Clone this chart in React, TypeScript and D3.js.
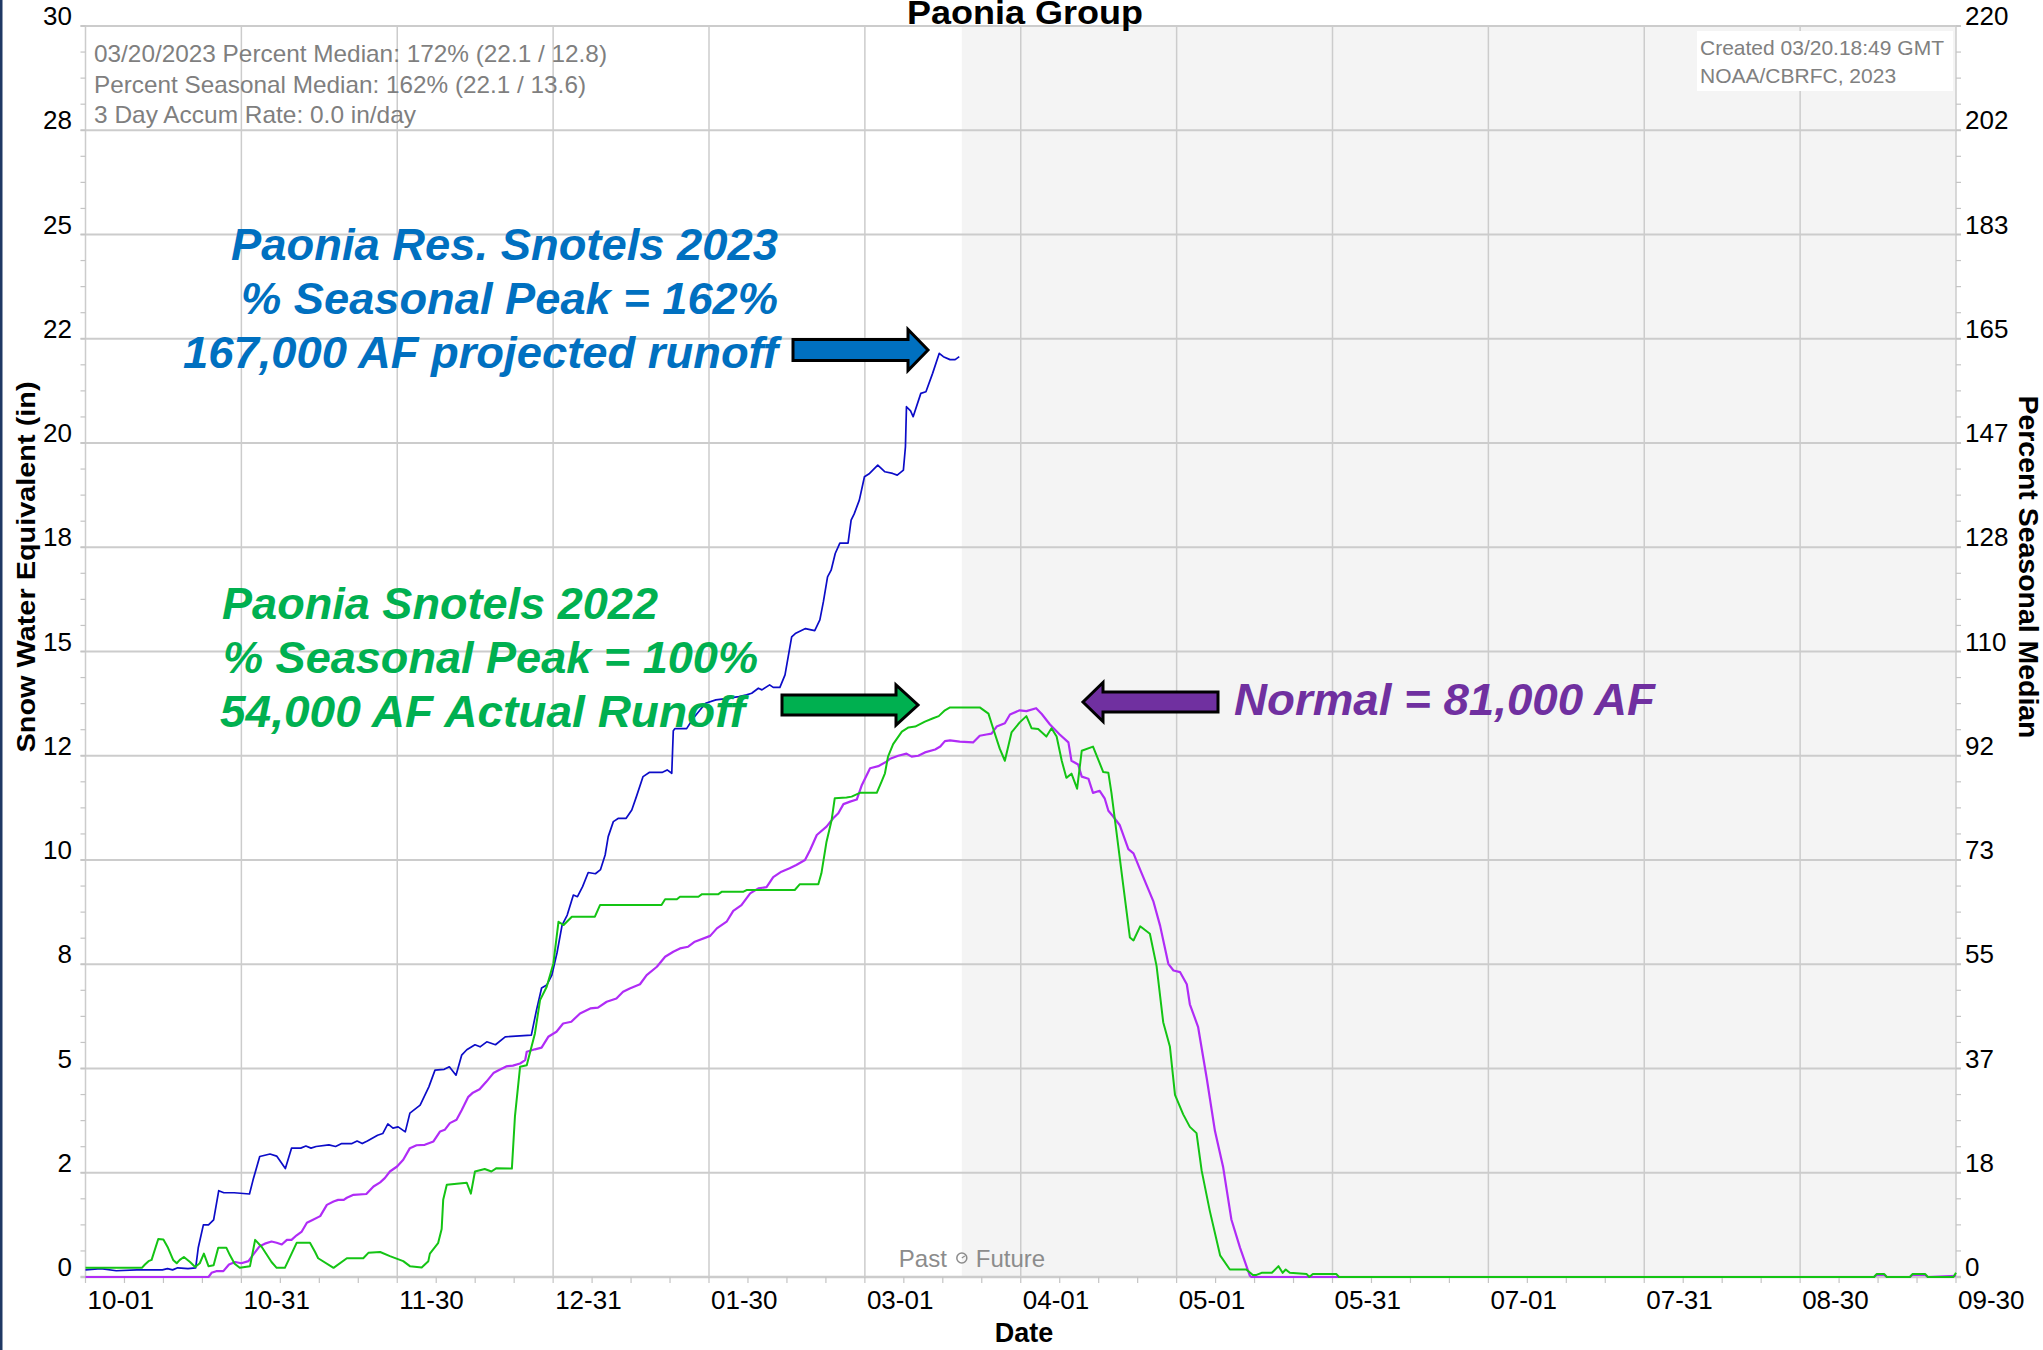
import React from 'react';
import * as d3 from 'd3';

// ---- data (day of water year from 10-01, SWE inches) ----
const xTickLabels = ['10-01', '10-31', '11-30', '12-31', '01-30', '03-01', '04-01', '05-01', '05-31', '07-01', '07-31', '08-30', '09-30'];
const leftTickLabels = ['0', '2', '5', '8', '10', '12', '15', '18', '20', '22', '25', '28', '30'];
const rightTickLabels = ['0', '18', '37', '55', '73', '92', '110', '128', '147', '165', '183', '202', '220'];

const infoLines = [
  '03/20/2023 Percent Median: 172% (22.1 / 12.8)',
  'Percent Seasonal Median: 162% (22.1 / 13.6)',
  '3 Day Accum Rate: 0.0 in/day',
];
const createdLines = ['Created 03/20.18:49 GMT', 'NOAA/CBRFC, 2023'];
const todayDay = 171;

const snotels2023: [number, number][] = [
  [0, 0.17], [3, 0.2], [6, 0.15], [10, 0.17], [15, 0.17], [16, 0.2], [17, 0.17], [18, 0.22], [20, 0.2], [21.5, 0.22],
  [22, 0.7], [23, 1.25], [24, 1.25], [25, 1.37], [26, 2.07], [27, 2.02], [29, 2.02], [32, 1.99], [32.7, 2.33],
  [34, 2.89], [36, 2.95], [37.3, 2.9], [39, 2.6], [40.2, 3.09], [42, 3.09], [43, 3.14], [44, 3.09], [45, 3.13],
  [47.5, 3.17], [48.8, 3.13], [50, 3.2], [52, 3.2], [53, 3.26], [54, 3.2], [55, 3.26], [57, 3.4], [58, 3.44],
  [59, 3.67], [60, 3.57], [61, 3.6], [62.4, 3.48], [63.3, 3.93], [65.3, 4.12], [67, 4.56], [68.2, 4.96], [70, 4.98],
  [71, 5.04], [72.3, 4.84], [73.4, 5.32], [74.4, 5.45], [76, 5.57], [77, 5.52], [78.3, 5.64], [80, 5.57], [81.9, 5.76],
  [87, 5.8], [88, 6.4], [89, 6.93], [90, 7.0], [91, 7.24], [92, 7.77], [93, 8.44], [94, 8.68], [95.2, 9.16], [96, 9.12],
  [97, 9.36], [98.1, 9.7], [99.5, 9.67], [100.5, 9.77], [101.4, 10.12], [102, 10.56], [103, 10.92], [104, 11.0],
  [105.5, 11.0], [106.6, 11.2], [107.5, 11.52], [108.8, 12.0], [110, 12.1], [112.5, 12.1], [113.5, 12.16],
  [114.4, 12.08], [114.7, 13.1], [115, 13.15], [117.3, 13.15], [118.6, 13.4], [121, 13.76], [123, 13.84], [125, 13.87],
  [126.5, 13.9], [127.5, 13.92], [129, 13.96], [130, 14.0], [131.3, 14.12], [132, 14.08], [133.5, 14.2], [134.2, 14.14],
  [135.5, 14.14], [136.5, 14.44], [137.8, 15.35], [138.5, 15.43], [140.5, 15.55], [141.6, 15.52], [142.3, 15.5],
  [143.3, 15.76], [144, 16.2], [144.8, 16.79], [145.5, 16.95], [146.3, 17.35], [147.2, 17.6], [148.8, 17.6],
  [149.4, 18.15], [150, 18.3], [151, 18.63], [152, 19.19], [153, 19.27], [154.6, 19.47], [156, 19.31], [157.5, 19.27],
  [158.4, 19.23], [159.6, 19.35], [160, 19.91], [160.2, 20.87], [161, 20.77], [161.5, 20.63], [163, 21.19],
  [164, 21.23], [165.3, 21.67], [166.6, 22.15], [167.4, 22.07], [168.7, 22.0], [169.7, 22.0], [170.5, 22.07],
];

const normalMedian: [number, number][] = [
  [0, 0], [24, 0], [24.6, 0.1], [25.5, 0.14], [26.9, 0.14], [28, 0.3], [29.2, 0.36], [30.4, 0.33], [31.8, 0.38],
  [32.8, 0.55], [34, 0.74], [35, 0.8], [36.3, 0.85], [37.3, 0.82], [38.3, 0.78], [39.3, 0.89], [40.2, 0.89],
  [41.2, 1.0], [42.2, 1.09], [43.2, 1.3], [44.2, 1.36], [45.8, 1.46], [47.1, 1.73], [48.4, 1.81], [49.3, 1.85],
  [50.4, 1.85], [51, 1.9], [52.3, 1.97], [54.8, 1.99], [56.2, 2.17], [57.5, 2.27], [58.4, 2.37], [59.4, 2.53],
  [60.8, 2.65], [62, 2.81], [63.3, 3.09], [64.6, 3.16], [66.2, 3.17], [67.9, 3.25], [69.2, 3.49], [70.1, 3.53],
  [71.1, 3.69], [72.4, 3.77], [73.4, 4.0], [74.7, 4.32], [75.6, 4.42], [76.9, 4.5], [78.2, 4.68], [79.6, 4.89],
  [80.8, 4.97], [82.1, 5.05], [83.4, 5.07], [84.8, 5.12], [85.8, 5.2], [86.1, 5.4], [87.7, 5.46], [89, 5.5],
  [89.3, 5.56], [90.3, 5.76], [91.9, 5.88], [93.2, 6.08], [94.8, 6.12], [96.5, 6.32], [98.5, 6.44], [100, 6.46],
  [101.7, 6.6], [103.6, 6.68], [104.9, 6.84], [106.2, 6.92], [108.2, 7.02], [109.5, 7.24], [111.5, 7.44],
  [113.1, 7.68], [114.7, 7.8], [116, 7.88], [117.6, 7.92], [118.9, 8.04], [121.9, 8.18], [123.2, 8.36],
  [125.1, 8.52], [126.4, 8.78], [128, 8.92], [129.7, 9.2], [131.3, 9.32], [132.9, 9.35], [134.2, 9.59],
  [135.8, 9.72], [137.4, 9.8], [138.7, 9.88], [140.4, 10.0], [141.4, 10.24], [142.7, 10.6], [144.6, 10.8],
  [145.9, 11.0], [146.9, 11.12], [147.9, 11.34], [149.2, 11.4], [150.5, 11.45], [151.5, 11.8], [153.1, 12.2],
  [154.7, 12.25], [156.3, 12.36], [157, 12.43], [158.6, 12.5], [160.2, 12.55], [161.2, 12.48], [162.5, 12.5],
  [163.8, 12.58], [165.8, 12.65], [166.8, 12.72], [167.7, 12.85], [168.7, 12.87], [170.6, 12.84], [173.2, 12.82],
  [174.5, 12.98], [175.8, 13.01], [176.8, 13.03], [177.8, 13.2], [179.4, 13.28], [180.4, 13.49], [182.3, 13.59],
  [183.6, 13.57], [185.5, 13.64], [186.6, 13.5], [188.2, 13.25], [190.1, 13.01], [191.8, 12.82], [192.4, 12.38],
  [193.7, 12.29], [194.4, 12.0], [195.7, 11.95], [196.6, 11.61], [197.9, 11.66], [198.9, 11.47], [199.6, 11.18],
  [200.5, 11.05], [201.8, 10.84], [203.5, 10.26], [204.5, 10.16], [206.1, 9.68], [208.4, 9.0], [209.7, 8.42],
  [211.3, 7.51], [212.3, 7.35], [213.6, 7.31], [214.9, 7.02], [215.5, 6.54], [217.1, 6.0], [218.8, 4.76],
  [220.4, 3.5], [222, 2.63], [223.6, 1.38], [225.3, 0.7], [227.2, 0.03], [227.5, 0], [349, 0], [349.5, 0.05],
  [351, 0.05], [351.5, 0], [356, 0], [356.5, 0.05], [359, 0.05], [359.5, 0], [365, 0.03],
];

const snotels2022: [number, number][] = [
  [0, 0.22], [11, 0.22], [11.6, 0.3], [12.3, 0.38], [12.9, 0.41], [14.2, 0.91], [15.2, 0.9], [16.1, 0.7],
  [17.1, 0.41], [17.8, 0.33], [18.4, 0.41], [19.2, 0.48], [20.4, 0.36], [21.4, 0.24], [22.3, 0.33], [23.1, 0.56],
  [24, 0.26], [25, 0.28], [25.9, 0.7], [27.5, 0.7], [28.2, 0.52], [29.1, 0.32], [30.1, 0.22], [32.1, 0.26],
  [33.1, 0.89], [34.4, 0.72], [36.3, 0.36], [37.3, 0.22], [38.9, 0.22], [39.6, 0.4], [41.2, 0.82], [43.8, 0.82],
  [44.8, 0.6], [45.4, 0.45], [48.4, 0.22], [51, 0.45], [54.2, 0.45], [55.2, 0.58], [57.5, 0.6], [59.4, 0.5],
  [62, 0.38], [63.3, 0.26], [65.6, 0.23], [66.9, 0.38], [67.2, 0.56], [68.8, 0.81], [69.5, 1.15], [69.8, 1.85],
  [70.5, 2.21], [74.4, 2.26], [75.2, 2.0], [76, 2.53], [77.9, 2.59], [79.2, 2.53], [80.2, 2.61], [83.2, 2.6],
  [83.8, 3.85], [84.8, 5.04], [86.1, 5.08], [87.7, 5.84], [88.7, 6.64], [90, 6.96], [91.3, 7.52], [92.3, 8.52],
  [93.3, 8.44], [94.9, 8.64], [99.4, 8.64], [100.4, 8.92], [112.4, 8.92], [113.1, 9.06], [115.4, 9.06], [116, 9.12],
  [119.6, 9.12], [120.3, 9.18], [123.5, 9.18], [124.2, 9.24], [128.4, 9.24], [129, 9.28], [138.4, 9.28],
  [139.4, 9.42], [143, 9.42], [143.6, 9.68], [144.6, 10.44], [145.6, 10.96], [146.2, 11.48], [148.5, 11.5],
  [149.5, 11.52], [151.1, 11.61], [154.4, 11.61], [155.4, 11.9], [156, 12.08], [156.6, 12.48], [157.6, 12.78],
  [159.3, 13.08], [160.6, 13.18], [161.9, 13.2], [163.8, 13.32], [165.4, 13.4], [166.5, 13.45], [167.7, 13.59],
  [168.7, 13.66], [174.5, 13.66], [176.2, 13.51], [177.1, 13.16], [178.4, 12.67], [179.4, 12.38], [180.7, 13.06],
  [182.3, 13.3], [183.6, 13.45], [184.6, 13.16], [185.9, 13.14], [187.5, 12.96], [188.5, 13.16], [189.5, 12.96],
  [190.5, 12.38], [191.4, 11.97], [192.4, 12.07], [193.5, 11.71], [194.4, 12.62], [196.6, 12.72], [198.6, 12.11],
  [199.6, 12.09], [200.2, 11.61], [201.2, 10.65], [202.5, 9.39], [203.8, 8.14], [204.5, 8.07], [205.8, 8.41],
  [207.7, 8.23], [209, 7.46], [210.3, 6.11], [211.6, 5.53], [212.6, 4.37], [214.2, 3.9], [215.5, 3.6],
  [216.8, 3.45], [217.8, 2.55], [219.4, 1.58], [221.4, 0.52], [223.3, 0.18], [226.5, 0.18], [227.8, 0.05],
  [228.5, 0.05], [229.5, 0.1], [231.5, 0.1], [232.8, 0.26], [233.6, 0.1], [234.2, 0.18], [235, 0.1], [238.3, 0.07],
  [238.8, 0], [239.5, 0.07], [244.1, 0.07], [244.6, 0], [349, 0], [349.5, 0.07], [351, 0.07], [351.5, 0],
  [356, 0], [356.5, 0.07], [359, 0.07], [359.5, 0], [364.5, 0], [365, 0.1],
];

// ---- layout ----
const W = 2043;
const H = 1350;
const plot = { left: 85.5, right: 1956, top: 26, bottom: 1277 };
const FONT = 'Liberation Sans, Arial, Helvetica, sans-serif';

const x = d3.scaleLinear().domain([0, 365]).range([plot.left, plot.right]);
const y = d3.scaleLinear().domain([0, 30]).range([plot.bottom, plot.top]);
const yRight = d3.scaleLinear().domain([0, 220]).range([plot.bottom, plot.top]);

const line = d3
  .line<[number, number]>()
  .x(d => x(d[0]))
  .y(d => y(d[1]));

// block arrow outline, tip at (tipX, cy)
function arrowPath(tailX: number, tipX: number, cy: number, body: number, head: number, headLen: number) {
  const dir = tipX > tailX ? 1 : -1;
  const baseX = tipX - dir * headLen;
  return [
    [tailX, cy - body], [baseX, cy - body], [baseX, cy - head], [tipX, cy],
    [baseX, cy + head], [baseX, cy + body], [tailX, cy + body],
  ].map(p => p.join(',')).join(' ');
}

const infoLengths = [513, 492, 322];

const annotations = [
  {
    color: '#0070C0',
    lines: [
      { text: 'Paonia Res. Snotels 2023', x: 231, y: 260, len: 547 },
      { text: '% Seasonal Peak = 162%', x: 241, y: 314, len: 537 },
      { text: '167,000 AF projected runoff', x: 183, y: 368, len: 595 },
    ],
  },
  {
    color: '#00B050',
    lines: [
      { text: 'Paonia Snotels 2022', x: 222, y: 619, len: 436 },
      { text: '% Seasonal Peak = 100%', x: 223, y: 673, len: 535 },
      { text: '54,000 AF Actual Runoff', x: 220, y: 727, len: 525 },
    ],
  },
  {
    color: '#7030A0',
    lines: [{ text: 'Normal = 81,000 AF', x: 1234, y: 715, len: 421 }],
  },
];

const arrows = [
  { color: '#0070C0', pts: arrowPath(793, 928, 350, 10.5, 20.5, 20) },
  { color: '#00B050', pts: arrowPath(782, 918, 705, 10, 20, 22) },
  { color: '#7030A0', pts: arrowPath(1218, 1083, 702, 10, 19.5, 20) },
];

export default function App() {
  const majorY = d3.range(13).map(i => (30 * i) / 12);
  const majorX = d3.range(13).map(i => (365 * i) / 12);
  const minorY = d3.range(49).map(i => (30 * i) / 48);
  const minorX = d3.range(49).map(i => (365 * i) / 48);
  const xToday = x(todayDay);

  return (
    <>
      <style>{'body{margin:0}'}</style>
      <svg width={W} height={H} viewBox={`0 0 ${W} ${H}`} style={{ display: 'block', background: '#fff' }} fontFamily={FONT}>
        <rect x={0} y={0} width={2.5} height={H} fill="#1f3864" />

        {/* future shading */}
        <rect x={xToday} y={plot.top} width={plot.right - xToday} height={plot.bottom - plot.top} fill="#f4f4f4" />

        {/* grid */}
        {majorX.map((d, i) => (
          <line key={'gx' + i} x1={x(d)} x2={x(d)} y1={plot.top} y2={plot.bottom} stroke="#cccccc" strokeWidth={1.5} />
        ))}
        {majorY.map((d, i) => (
          <line key={'gy' + i} x1={plot.left - 5} x2={plot.right + 5} y1={y(d)} y2={y(d)} stroke="#cccccc" strokeWidth={i === 0 ? 2.5 : 2} />
        ))}

        {/* minor ticks */}
        {minorY.map((d, i) => (
          <g key={'ty' + i} stroke="#c4c4c4" strokeWidth={1.2}>
            <line x1={plot.left - 5} x2={plot.left} y1={y(d)} y2={y(d)} />
            <line x1={plot.right} x2={plot.right + 5} y1={y(d)} y2={y(d)} />
          </g>
        ))}
        {minorX.map((d, i) => (
          <line key={'tx' + i} x1={x(d)} x2={x(d)} y1={plot.bottom} y2={plot.bottom + 6} stroke="#c4c4c4" strokeWidth={1.2} />
        ))}

        {/* tick labels */}
        {majorY.map((d, i) => (
          <text key={'ly' + i} x={72} y={y(d) - 1} textAnchor="end" fontSize={26} fill="#000">
            {leftTickLabels[i]}
          </text>
        ))}
        {majorY.map((d, i) => (
          <text key={'ry' + i} x={1965} y={yRight((220 * i) / 12) - 1} fontSize={26} fill="#000">
            {rightTickLabels[i]}
          </text>
        ))}
        {majorX.map((d, i) => (
          <text key={'lx' + i} x={x(d) + 2} y={1309} fontSize={26} fill="#000">
            {xTickLabels[i]}
          </text>
        ))}

        {/* titles */}
        <text x={1025} y={24} textAnchor="middle" fontSize={33} fontWeight="bold" textLength={236} lengthAdjust="spacingAndGlyphs">
          Paonia Group
        </text>
        <text x={1024} y={1342} textAnchor="middle" fontSize={27} fontWeight="bold">Date</text>
        <text transform="translate(35,567) rotate(-90)" textAnchor="middle" fontSize={26} fontWeight="bold"
          textLength={371} lengthAdjust="spacingAndGlyphs">
          Snow Water Equivalent (in)
        </text>
        <text transform="translate(2019,567) rotate(90)" textAnchor="middle" fontSize={27} fontWeight="bold"
          textLength={343} lengthAdjust="spacingAndGlyphs">
          Percent Seasonal Median
        </text>

        {/* info boxes */}
        {infoLines.map((t, i) => (
          <text key={'in' + i} x={94} y={62 + i * 30.5} fontSize={24} fill="#7f7f7f"
            textLength={infoLengths[i]} lengthAdjust="spacingAndGlyphs">
            {t}
          </text>
        ))}
        <rect x={1697} y={31} width={256} height={60} fill="#fff" />
        {createdLines.map((t, i) => (
          <text key={'cr' + i} x={1700} y={55 + i * 28} fontSize={21} fill="#808080">{t}</text>
        ))}

        {/* past / future marker */}
        <text x={xToday - 15} y={1267} textAnchor="end" fontSize={24} fill="#8c8c8c">Past</text>
        <circle cx={xToday} cy={1258} r={5} fill="none" stroke="#8c8c8c" strokeWidth={1.5} />
        <line x1={xToday} y1={1258} x2={xToday + 3} y2={1256} stroke="#8c8c8c" strokeWidth={1.2} />
        <text x={xToday + 14} y={1267} fontSize={24} fill="#8c8c8c">Future</text>

        {/* series */}
        <path d={line(normalMedian) || ''} fill="none" stroke="#b02cf6" strokeWidth={2.2} strokeLinejoin="round" />
        <path d={line(snotels2023) || ''} fill="none" stroke="#0c0cc8" strokeWidth={1.7} strokeLinejoin="round" />
        <path d={line(snotels2022) || ''} fill="none" stroke="#14c414" strokeWidth={2} strokeLinejoin="round" />

        {/* annotations */}
        {arrows.map((a, i) => (
          <polygon key={'ar' + i} points={a.pts} fill={a.color} stroke="#000" strokeWidth={3} strokeLinejoin="miter" />
        ))}
        {annotations.map((a, i) =>
          a.lines.map((l, j) => (
            <text key={'an' + i + '-' + j} x={l.x} y={l.y} fontSize={44} fontWeight="bold" fontStyle="italic"
              fill={a.color} textLength={l.len} lengthAdjust="spacingAndGlyphs">
              {l.text}
            </text>
          ))
        )}
      </svg>
    </>
  );
}
